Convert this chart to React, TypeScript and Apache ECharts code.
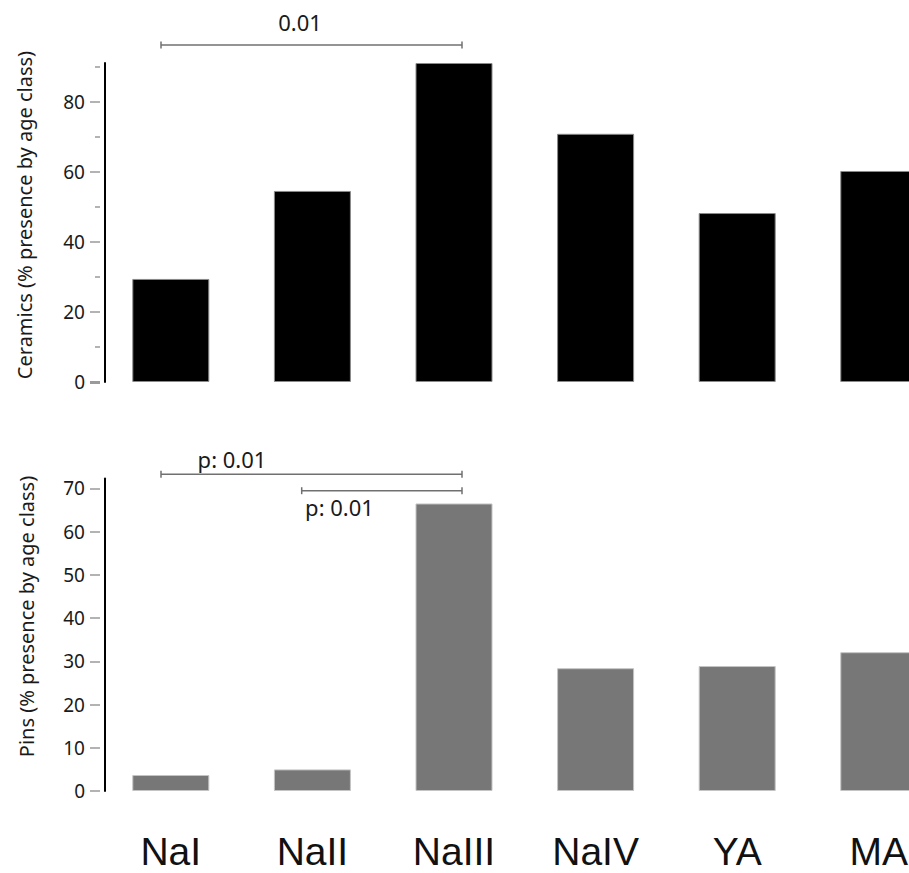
import React, { useEffect, useRef } from "react";
import * as echarts from "echarts";

const categories = ["NaI", "NaII", "NaIII", "NaIV", "YA", "MA"];
const ceramics = [29.4, 54.5, 91.0, 70.8, 48.2, 60.2];
const pins = [3.7, 5.0, 66.5, 28.4, 28.9, 32.1];
const ceramicsTicks = [0, 20, 40, 60, 80];
const ceramicsMinorTicks = [10, 30, 50, 70, 90];
const pinsTicks = [0, 10, 20, 30, 40, 50, 60, 70];
const ceramicsMax = 91;
const pinsMax = 72.3;

const FONT = "Noto Sans";
const CAT_FONT = "Liberation Sans";
const TICK_COLOR = "#9a9a9a";
const BRACKET_COLOR = "#707070";

function bracket(x1: number, x2: number, y: number) {
  return {
    type: "group",
    children: [
      { type: "line", shape: { x1, y1: y, x2, y2: y }, style: { stroke: BRACKET_COLOR, lineWidth: 1.5 } },
      { type: "line", shape: { x1, y1: y - 3.5, x2: x1, y2: y + 3.5 }, style: { stroke: BRACKET_COLOR, lineWidth: 1.5 } },
      { type: "line", shape: { x1: x2, y1: y - 3.5, x2, y2: y + 3.5 }, style: { stroke: BRACKET_COLOR, lineWidth: 1.5 } },
    ],
  };
}

function label(text: string, x: number, y: number, size = 22) {
  return {
    type: "text",
    x,
    y,
    style: { text, fill: "#1a1a1a", font: `${size}px "${FONT}"`, textAlign: "center", textVerticalAlign: "middle" },
  };
}

export default function App() {
  const ref = useRef<HTMLDivElement>(null);
  useEffect(() => {
    if (!ref.current) return;
    const chart = echarts.init(ref.current, undefined, { renderer: "svg" });
    const hiddenAxis = {
      axisLine: { show: false },
      axisTick: { show: false },
      axisLabel: { show: false },
      splitLine: { show: false },
    };
    const lineAxis = (gridIndex: number, max: number) => ({
      type: "value",
      gridIndex,
      position: "left",
      min: 0,
      max,
      offset: -5,
      axisLine: { show: true, lineStyle: { color: "#000", width: 2 } },
      axisTick: { show: false },
      axisLabel: { show: false },
      splitLine: { show: false },
    });
    const tickAxis = (gridIndex: number, max: number, ticks: number[], len: number, width: number, labels: number[] | null) => ({
      type: "value",
      gridIndex,
      position: "left",
      min: 0,
      max,
      offset: 0,
      axisLine: { show: false },
      axisTick: { show: true, customValues: ticks, length: len, lineStyle: { color: TICK_COLOR, width } },
      axisLabel: labels
        ? { show: true, customValues: labels, margin: 15, fontSize: 19, fontFamily: FONT, color: "#1a1a1a" }
        : { show: false },
      splitLine: { show: false },
    });

    chart.setOption({
      animation: false,
      backgroundColor: "#ffffff",
      grid: [
        { left: 100, top: 63, width: 849.6, height: 319 },
        { left: 100, top: 478.4, width: 849.6, height: 312.6 },
      ],
      xAxis: [
        { type: "category", gridIndex: 0, data: categories, ...hiddenAxis },
        {
          type: "category",
          gridIndex: 1,
          data: categories,
          axisLine: { show: false },
          axisTick: { show: false },
          splitLine: { show: false },
          axisLabel: { show: true, fontSize: 39, fontFamily: CAT_FONT, color: "#111", margin: 41 },
        },
      ],
      yAxis: [
        lineAxis(0, ceramicsMax),
        tickAxis(0, ceramicsMax, ceramicsTicks.filter((v) => v !== 0), 10, 1.5, ceramicsTicks),
        tickAxis(0, ceramicsMax, ceramicsMinorTicks, 5, 1.5, null),
        tickAxis(0, ceramicsMax, [0], 10, 3, null),
        lineAxis(1, pinsMax),
        tickAxis(1, pinsMax, pinsTicks, 10, 1.5, pinsTicks),
      ],
      series: [
        {
          type: "bar",
          xAxisIndex: 0,
          yAxisIndex: 0,
          data: ceramics,
          barWidth: 77,
          itemStyle: { color: "#000000", borderColor: "#8a8a8a", borderWidth: 1 },
        },
        {
          type: "bar",
          xAxisIndex: 1,
          yAxisIndex: 4,
          data: pins,
          barWidth: 77,
          itemStyle: { color: "#777777", borderColor: "#c4c4c4", borderWidth: 1 },
        },
      ],
      graphic: [
        {
          type: "text",
          x: 24,
          y: 215,
          rotation: Math.PI / 2,
          style: {
            text: "Ceramics (% presence by age class)",
            fill: "#1a1a1a",
            font: `20px "${FONT}"`,
            textAlign: "center",
            textVerticalAlign: "middle",
          },
        },
        {
          type: "text",
          x: 26.5,
          y: 616.5,
          rotation: Math.PI / 2,
          style: {
            text: "Pins (% presence by age class)",
            fill: "#1a1a1a",
            font: `20px "${FONT}"`,
            textAlign: "center",
            textVerticalAlign: "middle",
          },
        },
        bracket(161, 462, 45),
        label("0.01", 300, 21.5),
        bracket(161, 462, 474.3),
        label("p: 0.01", 232, 459),
        bracket(301.7, 462, 490.7),
        label("p: 0.01", 339.5, 507),
      ],
    });
    return () => chart.dispose();
  }, []);
  return (
    <div
      style={{ position: "fixed", left: 0, top: 0, width: 909, height: 873, overflow: "hidden", background: "#fff" }}
    >
      <div ref={ref} style={{ position: "absolute", left: 0, top: 0, width: 960, height: 873 }} />
    </div>
  );
}
